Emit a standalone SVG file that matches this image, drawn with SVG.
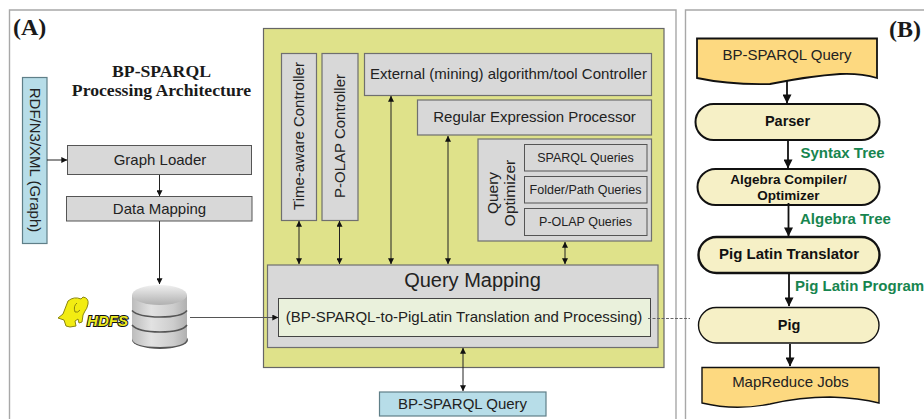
<svg xmlns="http://www.w3.org/2000/svg" width="924" height="419" viewBox="0 0 924 419">
<style>
text{font-family:"Liberation Sans",Arial,sans-serif;fill:#222;text-anchor:middle}
.s{font-family:"Liberation Serif","Times New Roman",serif;font-weight:bold;fill:#1a1a1a}
.g{fill:#d8d8d8;stroke:#6f6f6f;stroke-width:1.2}
.d{fill:#d8d8d8;stroke:#555;stroke-width:1}
.b{fill:#b7dde8;stroke:#5f7f88;stroke-width:1.2}
.c{fill:#f6f0c6;stroke:#111}
.y{fill:#fdd980;stroke:#111;stroke-width:1.8}
.f{font-weight:bold;fill:#111;font-size:14.5px}
.l{font-weight:bold;fill:#17854f;font-size:15px;text-anchor:start}
.a{stroke:#222;stroke-width:1;fill:none}
.h{stroke:#111;stroke-width:1.8;fill:none}
</style>
<defs>
<marker id="m" viewBox="0 0 10 10" refX="9.5" refY="5" markerWidth="8" markerHeight="6" markerUnits="userSpaceOnUse" orient="auto-start-reverse"><path d="M0 0L10 5L0 10Z" fill="#111"/></marker>
<marker id="n" viewBox="0 0 10 10" refX="9.5" refY="5" markerWidth="13" markerHeight="9" markerUnits="userSpaceOnUse" orient="auto"><path d="M0 0L10 5L0 10Z" fill="#111"/></marker>
<linearGradient id="cyl" x1="0" x2="1" y1="0" y2="0"><stop offset="0" stop-color="#bcbcbc"/><stop offset=".35" stop-color="#e2e2e2"/><stop offset=".75" stop-color="#cdcdcd"/><stop offset="1" stop-color="#b0b0b0"/></linearGradient>
<linearGradient id="top" x1="0" x2="0" y1="0" y2="1"><stop offset="0" stop-color="#f0f0f0"/><stop offset="1" stop-color="#b0b0b0"/></linearGradient>
</defs>

<g id="frames" fill="none" stroke="#a8a8a8" stroke-width="1.4">
<path d="M9.500 425V10H676V425"/>
<path d="M685.500 425V10H930"/>
</g>
<text class="s" x="13" y="35" font-size="24" style="text-anchor:start">(A)</text>
<text class="s" x="889" y="37" font-size="24" style="text-anchor:start">(B)</text>
<text class="s" x="161.500" y="76.500" font-size="17.700">BP-SPARQL</text>
<text class="s" x="161.500" y="95.500" font-size="17.700">Processing Architecture</text>

<g id="bg"><rect x="263.500" y="28.500" width="400.500" height="339" fill="#dfe28a" stroke="#666" stroke-width="1.200"/></g>

<g id="rdf"><rect class="b" x="22.500" y="77.500" width="24.500" height="166"/><text transform="translate(34.500 160) rotate(90)" y="5" font-size="15">RDF/N3/XML (Graph)</text></g>
<g id="graph-loader"><rect class="d" x="67.500" y="145.500" width="184" height="29"/><text x="160" y="164.500" font-size="15">Graph Loader</text></g>
<g id="data-mapping"><rect class="d" x="66.500" y="196.500" width="185.500" height="24.500"/><text x="159.500" y="214" font-size="15">Data Mapping</text></g>

<g id="hdfs-logo">
<path d="M58 318L63 314L68 301Q74 296 81 299L83 297Q89 298 88 304Q87 309 85 311L83 315L82 322L79 323L78 319L75 321L76 326L70 327L66 326L64 320L61 319Z" fill="#f2ec12" stroke="#8a8610" stroke-width="1"/>
<path d="M77 303Q73 306 75 312Q78 313 80 310" fill="none" stroke="#8a8610" stroke-width="1"/>
<text x="107.500" y="325.500" font-size="15" font-weight="bold" font-style="italic" style="fill:#ecea20;stroke:#111;stroke-width:2;paint-order:stroke">HDFS</text>
</g>
<g id="hdfs-db">
<ellipse cx="160" cy="340" rx="28" ry="9" fill="#555"/>
<path d="M132 295V338Q132 347 160 347Q187 347 187 338V295Z" fill="url(#cyl)"/>
<ellipse cx="159.500" cy="295" rx="27.500" ry="10" fill="url(#top)"/>
<path d="M132 310.500Q138 317 160 317Q182 317 187 310.500M132 325Q138 332 160 332Q182 332 187 325" fill="none" stroke="#555" stroke-width="1.600"/>
</g>

<g id="time-aware"><rect class="g" x="281.500" y="53.500" width="35" height="167"/><text transform="translate(299 136) rotate(-90)" y="5" font-size="15">Time-aware Controller</text></g>
<g id="p-olap-controller"><rect class="g" x="322" y="53.500" width="36" height="167"/><text transform="translate(340 136) rotate(-90)" y="5" font-size="15">P-OLAP Controller</text></g>
<g id="external"><rect class="g" x="364.500" y="53.500" width="287" height="42"/><text x="508.500" y="79" font-size="15">External (mining) algorithm/tool Controller</text></g>
<g id="regex"><rect class="g" x="417.500" y="100" width="234" height="35"/><text x="534.500" y="122" font-size="15">Regular Expression Processor</text></g>
<g id="query-optimizer"><rect class="g" x="478" y="139" width="173.500" height="102"/><text transform="translate(503 193) rotate(-90)" font-size="15.500"><tspan x="0" y="-5">Query</tspan><tspan x="0" y="12">Optimizer</tspan></text></g>
<g id="sparql-queries"><rect class="d" x="524.500" y="144.500" width="122.500" height="26.500"/><text x="585.500" y="162" font-size="12.500">SPARQL Queries</text></g>
<g id="folder-queries"><rect class="d" x="524.500" y="176.500" width="122.500" height="26.500"/><text x="585.500" y="194" font-size="12.500">Folder/Path Queries</text></g>
<g id="p-olap-queries"><rect class="d" x="524.500" y="208.500" width="122.500" height="27"/><text x="585.500" y="226" font-size="12.500">P-OLAP Queries</text></g>
<g id="query-mapping"><rect class="g" x="267.500" y="265" width="390.500" height="82.500"/><text x="472.500" y="287" font-size="20">Query Mapping</text></g>
<g id="translation"><rect x="278.500" y="298.500" width="372" height="38" fill="#eaf1dc" stroke="#444" stroke-width="1"/><text x="464" y="322" font-size="15">(BP-SPARQL-to-PigLatin Translation and Processing)</text></g>
<g id="bp-query-a"><rect class="b" x="379.500" y="392" width="166.500" height="24"/><text x="462.500" y="408.500" font-size="15">BP-SPARQL Query</text></g>

<g id="bp-query-b"><path class="y" d="M697 38.500H877V78Q860 73 840 74Q810 76 770 84Q730 85 697 78Z"/><text x="787" y="59.500" font-size="15">BP-SPARQL Query</text></g>
<g id="parser"><rect class="c" x="695.500" y="104" width="184" height="36" rx="18" stroke-width="2"/><text class="f" x="787.500" y="126">Parser</text></g>
<g id="algebra"><rect class="c" x="697.500" y="169" width="182" height="36" rx="18" stroke-width="2"/><text class="f" x="788.500" y="183.500" style="font-size:13.500px">Algebra Compiler/</text><text class="f" x="788.500" y="200" style="font-size:13.500px">Optimizer</text></g>
<g id="pig-latin"><rect class="c" x="698.500" y="237" width="181" height="36" rx="18" stroke-width="2.400"/><text class="f" x="789" y="259" style="font-size:15px">Pig Latin Translator</text></g>
<g id="pig"><rect class="c" x="698.500" y="307.500" width="180.500" height="35.500" rx="17.700" stroke-width="1.400"/><text class="f" x="789" y="330">Pig</text></g>
<g id="mapreduce"><path class="y" style="stroke-width:1.400" d="M702 367.500H879V403Q860 398 830 397Q800 397 770 404Q735 411 702 403Z"/><text x="790.500" y="387" font-size="15">MapReduce Jobs</text></g>

<text class="l" x="800.500" y="157.500">Syntax Tree</text>
<text class="l" x="800" y="224">Algebra Tree</text>
<text class="l" x="795" y="291">Pig Latin Program</text>

<g id="connectors">
<path class="a" d="M47 160H67" marker-end="url(#m)"/>
<path class="a" d="M159.500 175V196" marker-end="url(#m)"/>
<path class="a" d="M159.500 221V284" marker-end="url(#m)"/>
<path d="M190 317.500H278" stroke="#555" stroke-width="1" fill="none" marker-end="url(#m)"/>
<path d="M648 318.500H690" stroke="#666" stroke-width="1" stroke-dasharray="3 1.500" fill="none"/>
<path class="a" d="M299 221V264" marker-start="url(#m)" marker-end="url(#m)"/>
<path class="a" d="M339.500 221V264" marker-start="url(#m)" marker-end="url(#m)"/>
<path class="a" d="M391 96V264" marker-start="url(#m)" marker-end="url(#m)"/>
<path class="a" d="M448 136V264" marker-start="url(#m)" marker-end="url(#m)"/>
<path class="a" d="M565 242V264" marker-start="url(#m)" marker-end="url(#m)"/>
<path class="a" d="M463 348V391" marker-start="url(#m)" marker-end="url(#m)"/>
<path class="h" d="M787 80V103" marker-end="url(#n)"/>
<path class="h" d="M788 141V168" marker-end="url(#n)"/>
<path class="h" d="M788.500 203V236" marker-end="url(#n)"/>
<path class="h" d="M789 274V306" marker-end="url(#n)"/>
<path class="h" d="M790 344V366" marker-end="url(#n)"/>
</g>
</svg>
